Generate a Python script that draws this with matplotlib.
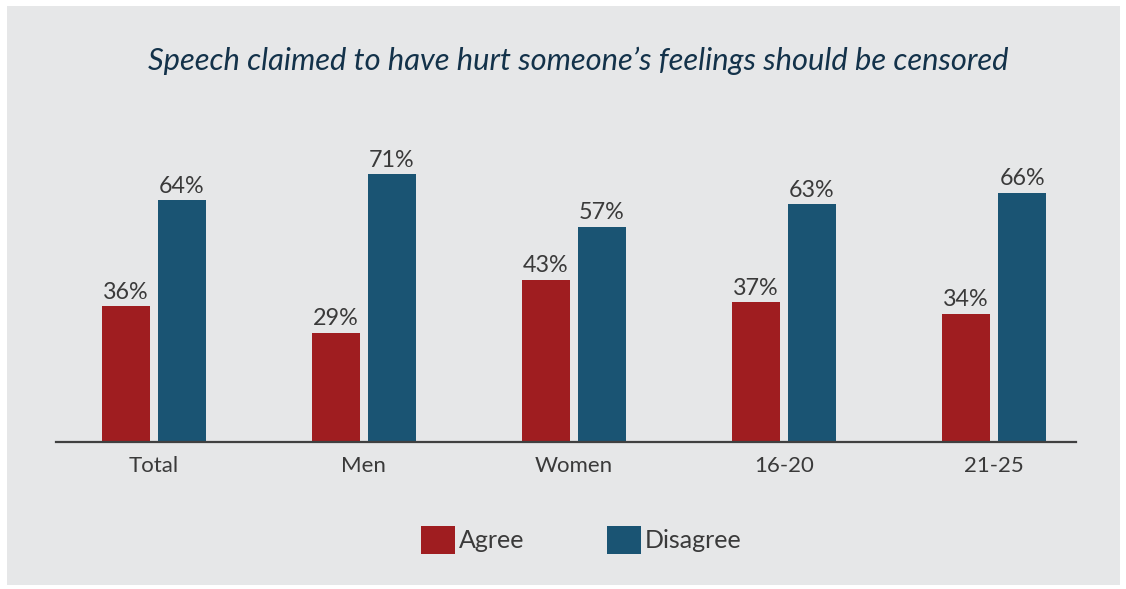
import matplotlib
matplotlib.use("Agg")
import matplotlib.pyplot as plt
from matplotlib.patches import Rectangle, Patch
import numpy as np

categories = ["Total", "Men", "Women", "16-20", "21-25"]
agree = [36, 29, 43, 37, 34]
disagree = [64, 71, 57, 63, 66]
series_names = ["Agree", "Disagree"]
title = "Speech claimed to have hurt someone\u2019s feelings should be censored"

RED = "#9f1d20"
BLUE = "#1a5473"
BG = "#e6e7e8"
TXT = "#3a3a3a"
TITLE_C = "#13324a"
FONT = ["Lato", "DejaVu Sans"]
WEIGHT = "normal"

W, H = 1126, 589
fig = plt.figure(figsize=(W / 100, H / 100), dpi=100, facecolor="white")
fig.patches.append(Rectangle((7 / W, 1 - 585 / H), (1120 - 7) / W, (585 - 6) / H,
                             transform=fig.transFigure, facecolor=BG, edgecolor="none", zorder=-5))

ax = fig.add_axes([56 / W, 147 / H, (1076 - 56) / W, (524.5 - 147) / H])
ax.set_facecolor("none")
ax.set_zorder(2)

x = np.arange(len(categories))
bw = 0.2285
off = 0.1333
b1 = ax.bar(x - off, agree, bw, color=RED, zorder=2)
b2 = ax.bar(x + off, disagree, bw, color=BLUE, zorder=2)

for bars, vals in ((b1, agree), (b2, disagree)):
    for rect, v in zip(bars, vals):
        ax.annotate(f"{v}%", (rect.get_x() + rect.get_width() / 2, rect.get_height()),
                    xytext=(0, 2.5), textcoords="offset points", ha="center", va="bottom",
                    fontsize=16.8, color=TXT, family=FONT, fontweight=WEIGHT)

ax.set_xlim(-0.4645, 4.39)
ax.set_ylim(0, 100)
for s in ("top", "right", "left"):
    ax.spines[s].set_visible(False)
ax.spines["bottom"].set_color("#404040")
ax.spines["bottom"].set_linewidth(1.6)
ax.set_yticks([])
ax.set_xticks(x)
ax.set_xticklabels(categories, fontsize=16, color=TXT, family=FONT, fontweight=WEIGHT)
ax.tick_params(axis="x", length=0, pad=10)

fig.text(578 / W, 1 - 61 / H, title, ha="center", va="center", fontsize=22.2,
         style="italic", color=TITLE_C, family=FONT)

handles = [Patch(facecolor=RED, edgecolor="none"), Patch(facecolor=BLUE, edgecolor="none")]
leg = fig.legend(handles, series_names, loc="center", bbox_to_anchor=(581 / W, 1 - 540 / H),
                 ncol=2, frameon=False, handlelength=1.36, handleheight=1.36,
                 handletextpad=0.16, columnspacing=3.3,
                 prop={"family": FONT, "size": 18, "weight": WEIGHT})
for t in leg.get_texts():
    t.set_color(TXT)

fig.savefig("out.png", dpi=100, facecolor="white")
